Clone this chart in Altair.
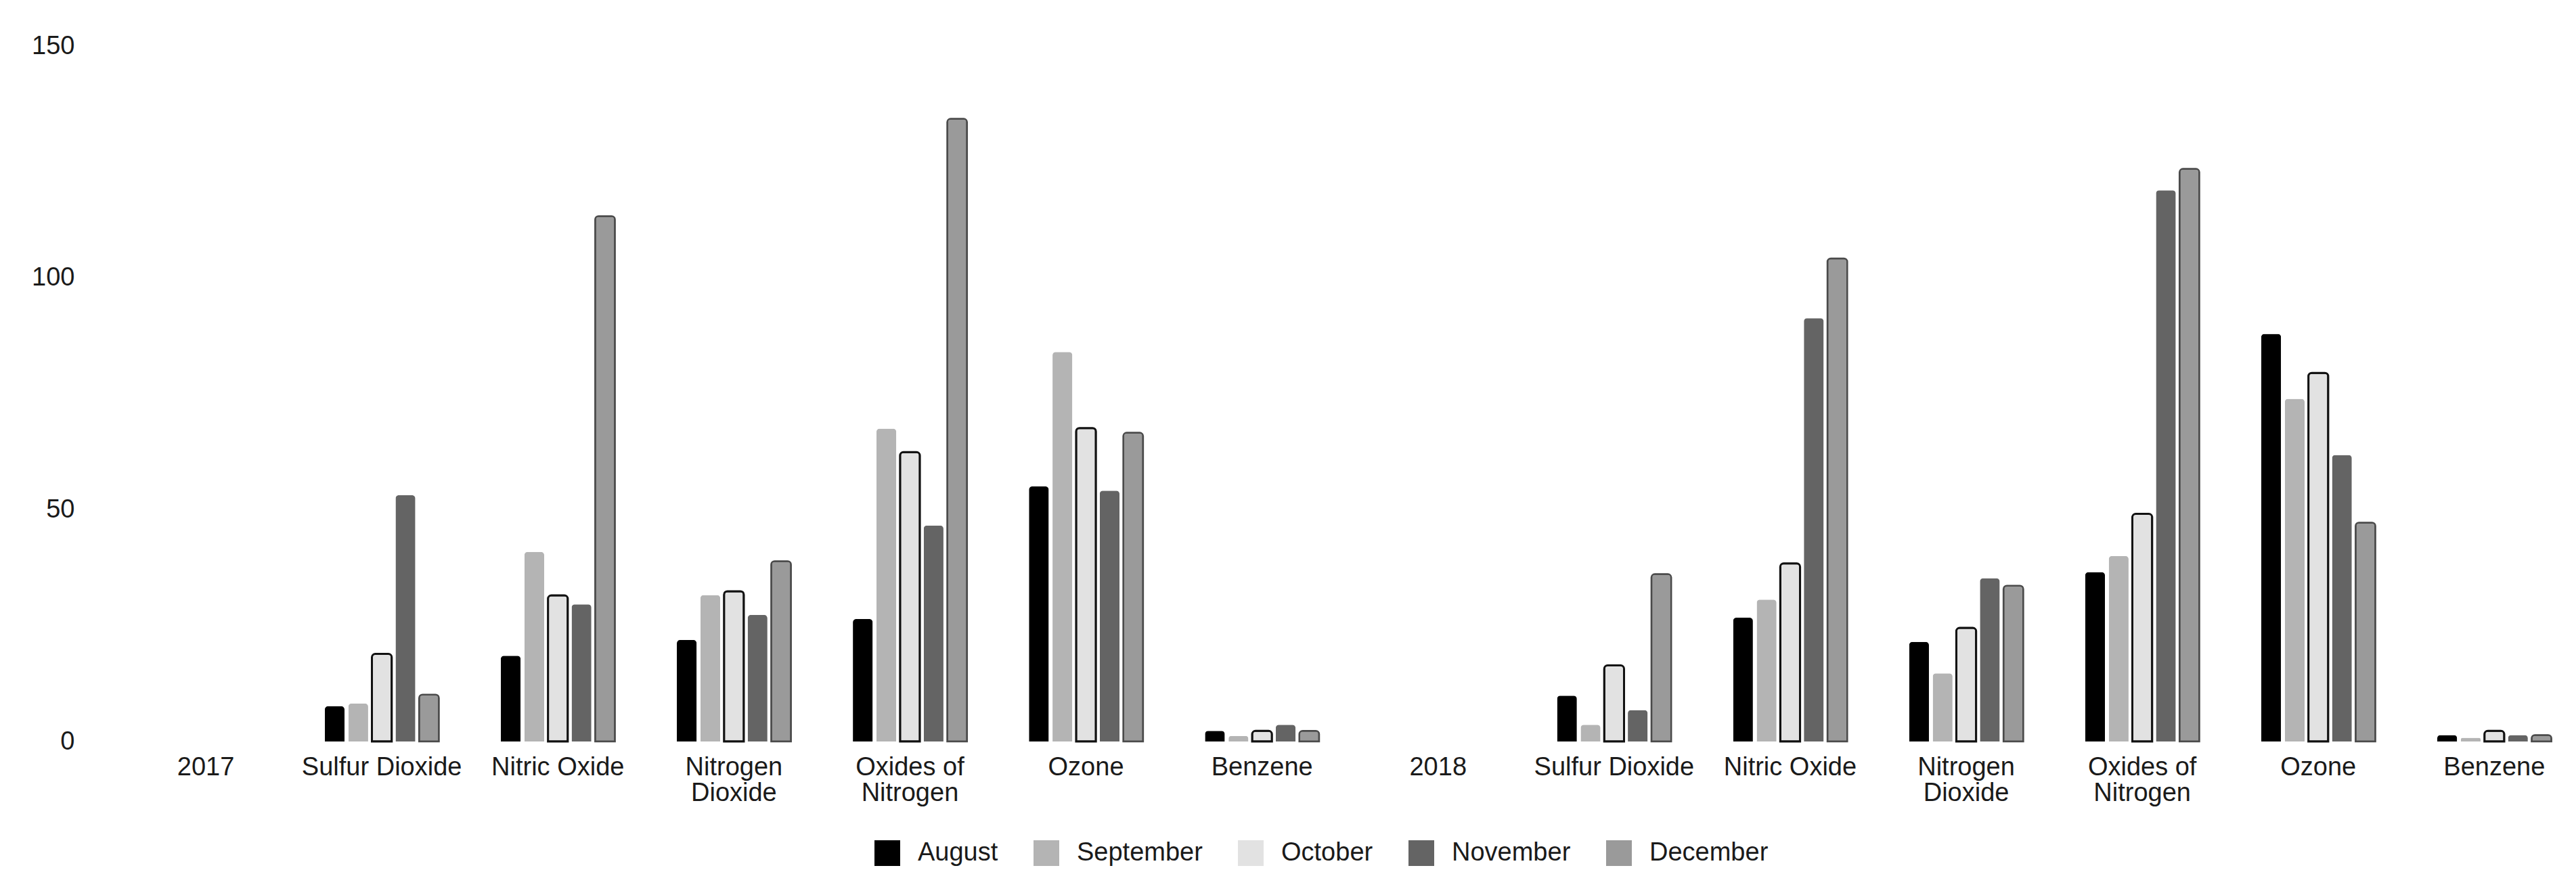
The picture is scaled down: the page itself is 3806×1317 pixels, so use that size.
import altair as alt
import pandas as pd

# ---- data ----
years = ["2017", "2018"]
pollutants = ["Sulfur Dioxide", "Nitric Oxide", "Nitrogen\nDioxide",
              "Oxides of\nNitrogen", "Ozone", "Benzene"]
months = ["August", "September", "October", "November", "December"]

aug_2017 = [7.6, 18.5, 21.9, 26.4, 55.0, 2.3]
sep_2017 = [8.2, 40.9, 31.6, 67.5, 84.0, 1.2]
oct_2017 = [18.9, 31.5, 32.4, 62.4, 67.6, 2.3]
nov_2017 = [53.1, 29.6, 27.3, 46.6, 54.1, 3.6]
dec_2017 = [10.1, 113.3, 38.9, 134.3, 66.6, 2.3]

aug_2018 = [9.9, 26.7, 21.5, 36.5, 87.9, 1.4]
sep_2018 = [3.6, 30.6, 14.7, 40.0, 73.9, 0.8]
oct_2018 = [16.4, 38.4, 24.5, 49.1, 79.5, 2.3]
nov_2018 = [6.8, 91.3, 35.2, 118.9, 61.8, 1.4]
dec_2018 = [36.1, 104.2, 33.6, 123.5, 47.2, 1.4]

y_ticks = [0, 50, 100, 150]

series = {
    "2017": [aug_2017, sep_2017, oct_2017, nov_2017, dec_2017],
    "2018": [aug_2018, sep_2018, oct_2018, nov_2018, dec_2018],
}

# category keys (year header + pollutants per year)
keys = []
for yr in years:
    keys.append(f"{yr}|{yr}")
    for p in pollutants:
        keys.append(f"{yr}|{p}")

rows = []
for yr in years:
    for m, vals in zip(months, series[yr]):
        for p, v in zip(pollutants, vals):
            rows.append({"key": f"{yr}|{p}", "month": m, "value": v})
df = pd.DataFrame(rows)

colors = ["#000000", "#b4b4b4", "#e2e2e2", "#646464", "#9a9a9a"]
FONT = "Liberation Sans"
TXT = "#1a1a1a"

stroke_rule = (
    alt.when(alt.datum.month == "October").then(alt.value("#111111"))
    .when(alt.datum.month == "December").then(alt.value("#4a4a4a"))
    .otherwise(alt.value("transparent"))
)
stroke_w_rule = (
    alt.when(alt.datum.month == "October").then(alt.value(3))
    .when(alt.datum.month == "December").then(alt.value(2.5))
    .otherwise(alt.value(0))
)

chart = alt.Chart(df).mark_bar(
    cornerRadiusTopLeft=5, cornerRadiusTopRight=5
).encode(
    x=alt.X(
        "key:N",
        sort=keys,
        scale=alt.Scale(domain=keys, range=[6, 3647.4],
                        paddingInner=0.33, paddingOuter=0.165),
        axis=alt.Axis(
            title=None, domain=False, ticks=False, labelAngle=0,
            labelExpr="split(split(datum.value, '|')[1], '\\n')",
            labelFontSize=38, labelFont=FONT, labelColor=TXT,
            labelPadding=19, labelLineHeight=38, labelLimit=600,
            labelOverlap=False, labelBaseline="top", labelAlign="center",
        ),
    ),
    xOffset=alt.XOffset(
        "month:N", sort=months,
        scale=alt.Scale(domain=months, paddingInner=0.16, paddingOuter=0.08),
    ),
    y=alt.Y(
        "value:Q",
        scale=alt.Scale(domain=[0, 150], nice=False),
        axis=alt.Axis(
            title=None, values=y_ticks, grid=False, domain=False,
            ticks=False, tickSize=0, labelPadding=58,
            labelFontSize=38, labelFont=FONT, labelColor=TXT,
        ),
    ),
    color=alt.Color(
        "month:N", sort=months,
        scale=alt.Scale(domain=months, range=colors),
        legend=alt.Legend(
            title=None, orient="none", legendX=1124, legendY=1174,
            direction="horizontal", symbolType="square", symbolSize=1444,
            symbolStrokeWidth=0, labelFontSize=38, labelFont=FONT,
            labelColor=TXT, labelOffset=26, columnPadding=52,
            labelLimit=600, padding=0,
        ),
    ),
    stroke=stroke_rule,
    strokeWidth=stroke_w_rule,
).properties(
    width=3620,
    height=1028,
    autosize=alt.AutoSizeParams(type="none"),
    padding={"left": 160, "top": 60, "right": 10, "bottom": 210},
).configure(
    font=FONT,
    view=alt.ViewConfig(stroke=None, strokeWidth=0),
)

chart.save("out.html", embed_options={"renderer": "svg", "actions": False})
